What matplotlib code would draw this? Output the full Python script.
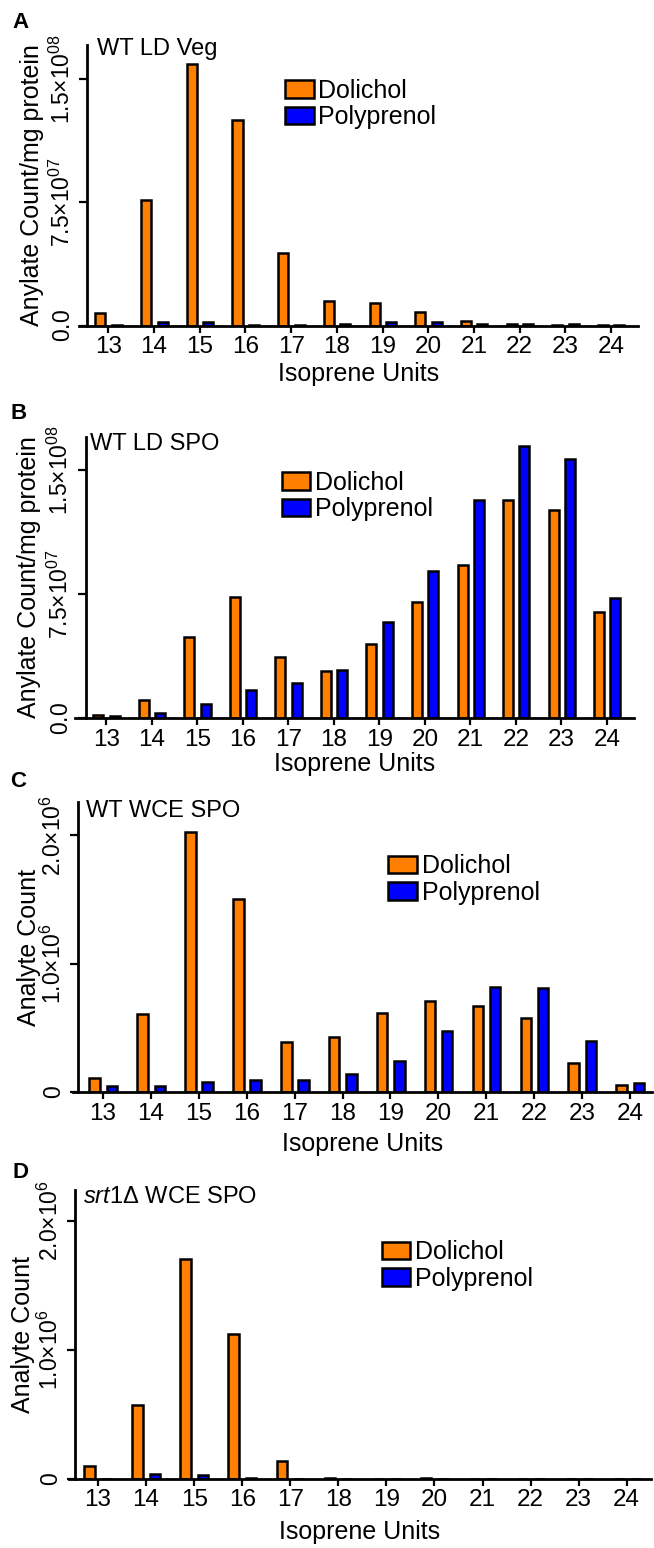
import matplotlib.pyplot as plt
import matplotlib.transforms as mtransforms
import numpy as np

plt.rcParams['font.family'] = ['Liberation Sans', 'DejaVu Sans']
plt.rcParams['mathtext.fontset'] = 'custom'
plt.rcParams['mathtext.rm'] = 'Liberation Sans'
plt.rcParams['mathtext.it'] = 'Liberation Sans:italic'
plt.rcParams['mathtext.bf'] = 'Liberation Sans:bold'

W, H = 654, 1548
ORANGE = '#FF8000'
BLUE = '#0000FF'

units = np.arange(13, 25)

# A: WT LD vegetative (analyte count / mg protein)
veg_dolichol = [0.77e7, 7.66e7, 1.59e8, 1.25e8, 4.46e7, 1.52e7, 1.40e7, 0.85e7, 0.28e7, 0.10e7, 0.06e7, 0.04e7]
veg_polyprenol = [0.06e7, 0.22e7, 0.26e7, 0.06e7, 0.06e7, 0.12e7, 0.26e7, 0.22e7, 0.12e7, 0.12e7, 0.12e7, 0.06e7]

# B: WT LD sporulation
ld_spo_dolichol = [0.2e7, 1.1e7, 4.9e7, 7.3e7, 3.7e7, 2.86e7, 4.46e7, 7.0e7, 9.24e7, 1.316e8, 1.26e8, 6.44e7]
ld_spo_polyprenol = [0.14e7, 0.34e7, 0.84e7, 1.68e7, 2.12e7, 2.9e7, 5.84e7, 8.9e7, 1.316e8, 1.644e8, 1.568e8, 7.28e7]

# C: WT whole cell extract sporulation
wce_spo_dolichol = [0.109e6, 0.607e6, 2.026e6, 1.505e6, 0.394e6, 0.43e6, 0.615e6, 0.713e6, 0.672e6, 0.576e6, 0.231e6, 0.054e6]
wce_spo_polyprenol = [0.047e6, 0.047e6, 0.08e6, 0.093e6, 0.093e6, 0.143e6, 0.246e6, 0.477e6, 0.822e6, 0.815e6, 0.397e6, 0.07e6]

# D: srt1 deletion whole cell extract sporulation
srt1_dolichol = [0.103e6, 0.574e6, 1.703e6, 1.127e6, 0.142e6, 0.01e6, 0.0, 0.008e6, 0.0, 0.0, 0.0, 0.0]
srt1_polyprenol = [0.0, 0.04e6, 0.032e6, 0.01e6, 0.0, 0.0, 0.0, 0.0, 0.0, 0.0, 0.0, 0.0]

ld_ticks = [0, 7.5e7, 1.5e8]
ld_ticklabels = ['$0.0$', '7.5×10$^{07}$', '1.5×10$^{08}$']
wce_ticks = [0, 1.0e6, 2.0e6]
wce_ticklabels = ['$0$', '1.0×10$^{6}$', '2.0×10$^{6}$']

panels = [
    dict(letter='A', title='WT LD Veg', dol=veg_dolichol, poly=veg_polyprenol,
         ylabel='Anylate Count/mg protein', ticks=ld_ticks, ticklabels=ld_ticklabels, ytop=1.706e8,
         box=(79, 638, 45, 326), tick13=108.4, tick24=611, spine_px=87,
         letter_xy=(12, 28), title_xy=(97, 55), legend_xy=(285, 104),
         xlabel_top=362, ylabel_right=44),
    dict(letter='B', title='WT LD SPO', dol=ld_spo_dolichol, poly=ld_spo_polyprenol,
         ylabel='Anylate Count/mg protein', ticks=ld_ticks, ticklabels=ld_ticklabels, ytop=1.701e8,
         box=(75, 634, 436.7, 718.3), tick13=106.4, tick24=607, spine_px=85.5,
         letter_xy=(10, 419), title_xy=(89.7, 450), legend_xy=(281.5, 496),
         xlabel_top=752, ylabel_right=41),
    dict(letter='C', title='WT WCE SPO', dol=wce_spo_dolichol, poly=wce_spo_polyprenol,
         ylabel='Analyte Count', ticks=wce_ticks, ticklabels=wce_ticklabels, ytop=2.262e6,
         box=(73, 652, 801.7, 1092.3), tick13=103, tick24=630, spine_px=78,
         letter_xy=(10, 787), title_xy=(85.5, 816.7), legend_xy=(388, 879.5),
         xlabel_top=1132, ylabel_right=41),
    dict(letter='D', title='$\\mathit{srt1}$Δ WCE SPO', dol=srt1_dolichol, poly=srt1_polyprenol,
         ylabel='Analyte Count', ticks=wce_ticks, ticklabels=wce_ticklabels, ytop=2.24e6,
         box=(69, 651, 1190, 1479), tick13=98, tick24=626.7, spine_px=75,
         letter_xy=(12, 1178), title_xy=(83.4, 1203), legend_xy=(381.6, 1265.5),
         xlabel_top=1520, ylabel_right=35),
]

fig = plt.figure(figsize=(W / 100, H / 100), dpi=100)


def fx(x):
    return x / W


def fy(y):
    return 1 - y / H


for p in panels:
    left, right, top, bottom = p['box']
    ax = fig.add_axes([fx(left), fy(bottom), (right - left) / W, (bottom - top) / H])

    ax.bar(units - 0.175, p['dol'], width=0.22, color=ORANGE, edgecolor='black',
           linewidth=1.8, label='Dolichol')
    ax.bar(units + 0.185, p['poly'], width=0.22, color=BLUE, edgecolor='black',
           linewidth=1.8, label='Polyprenol')

    step = (p['tick24'] - p['tick13']) / 11
    ax.set_xlim(13 - (p['tick13'] - left) / step, 24 + (right - p['tick24']) / step)
    ax.set_ylim(0, p['ytop'])

    for side in ('top', 'right'):
        ax.spines[side].set_visible(False)
    ax.spines['left'].set_position(('data', 13 - (p['tick13'] - p['spine_px']) / step))
    ax.spines['left'].set_linewidth(2)
    ax.spines['bottom'].set_linewidth(2)

    ax.set_xticks(units)
    ax.set_yticks(p['ticks'], p['ticklabels'], rotation=90, va='center')
    ax.tick_params(axis='x', length=5, width=1.6, pad=2.5, labelsize=17.5)
    ax.tick_params(axis='y', length=6, width=1.6, pad=3, labelsize=16.5)

    ax.set_xlabel('Isoprene Units', fontsize=18)
    ax.xaxis.set_label_coords(0.5, fy(p['xlabel_top']),
                              transform=mtransforms.blended_transform_factory(ax.transAxes, fig.transFigure))
    ax.set_ylabel(p['ylabel'], fontsize=18)
    ax.yaxis.set_label_coords(fx(p['ylabel_right']), 0.5,
                              transform=mtransforms.blended_transform_factory(fig.transFigure, ax.transAxes))

    ax.legend(loc='center left', bbox_to_anchor=(fx(p['legend_xy'][0]), fy(p['legend_xy'][1])),
              bbox_transform=fig.transFigure, frameon=False, borderpad=0, borderaxespad=0,
              handlelength=1.14, handleheight=0.72, handletextpad=0.2, labelspacing=0.1,
              fontsize=18)

    fig.text(fx(p['letter_xy'][0]), fy(p['letter_xy'][1]), p['letter'], fontsize=16,
             fontweight='bold', va='baseline')
    fig.text(fx(p['title_xy'][0]), fy(p['title_xy'][1]), p['title'], fontsize=17,
             va='baseline')

fig.savefig('out.png', dpi=100)
